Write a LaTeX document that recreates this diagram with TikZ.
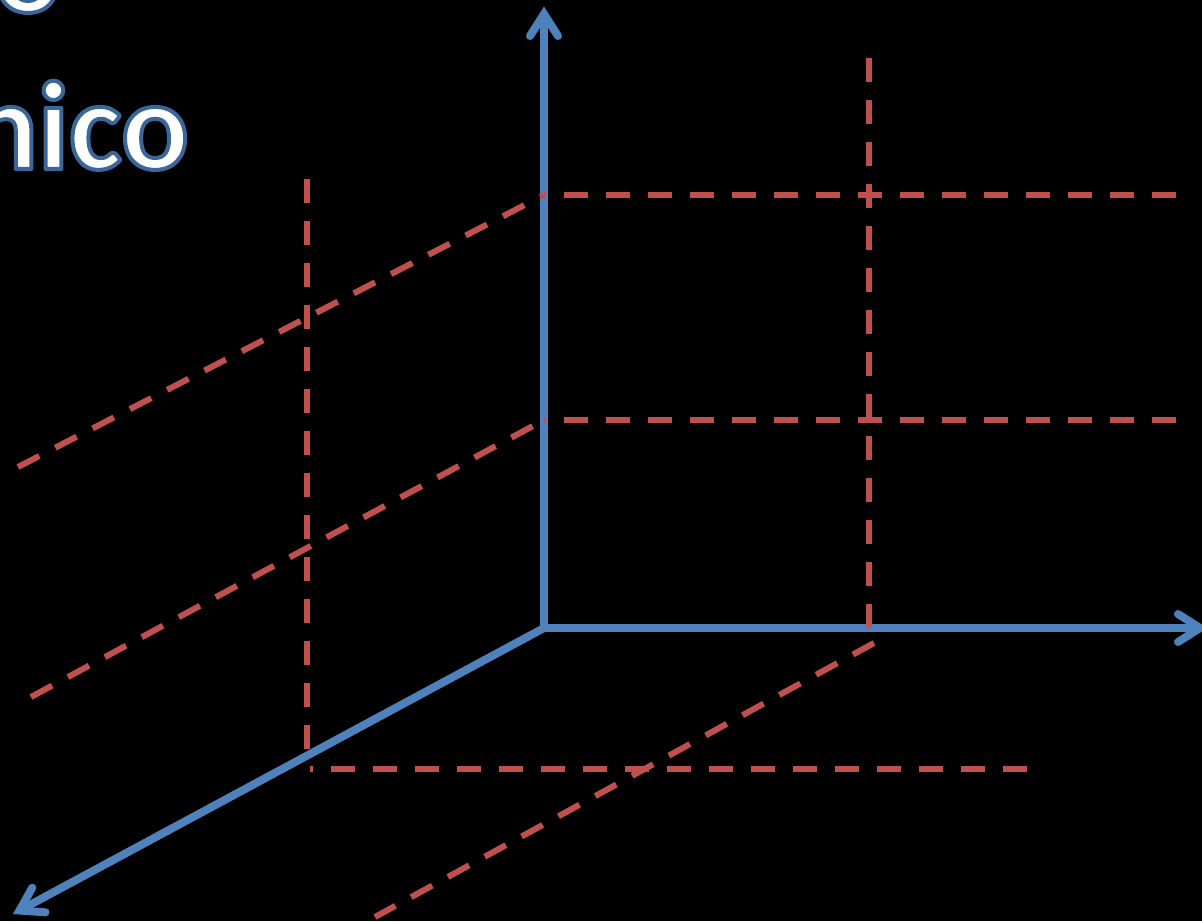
\documentclass[tikz,border=0pt]{standalone}
\usepackage{fontspec}
\setmainfont{Carlito}
\definecolor{axisblue}{HTML}{4F81BD}
\definecolor{dashred}{HTML}{C0504D}
\newcommand{\outlinedtext}[1]{\special{pdf:literal 2 Tr 4 w 1 j 0.23 0.40 0.60 RG}#1\special{pdf:literal 0 Tr}}
\begin{document}
\begin{tikzpicture}[x=1pt,y=-1pt,
  axisline/.style={draw=axisblue,line width=8pt},
  barb/.style={draw=axisblue,line width=8pt,line cap=round,line join=miter,miter limit=10},
  guide/.style={draw=dashred,line width=6pt,dash pattern=on 24pt off 18pt},
  titletext/.style={text=white,font=\bfseries\fontsize{126}{150}\selectfont,inner sep=0pt}]
\useasboundingbox (0,0) rectangle (1202,921);
\fill[black] (0,0) rectangle (1202,921);
\clip (0,0) rectangle (1202,921);

% title fragments
\node[titletext,anchor=base east] (t1) at (62,12) {\outlinedtext{o}};
\node[titletext,anchor=base east] (t2) at (189,169) {\outlinedtext{nico}};

% axes
\coordinate (O) at (544,628);
\coordinate (ytip) at (544,14);
\coordinate (yl) at (530,36);
\coordinate (yr) at (558,36);
\coordinate (xtip) at (1200,628);
\coordinate (xu) at (1178,614);
\coordinate (xd) at (1178,642);
\coordinate (ztip) at (19.5,910.5);
\coordinate (zu) at (32.3,887.7);
\coordinate (zd) at (45.5,912.3);

\draw[axisline] (O) -- (ytip);
\draw[axisline] (540,628) -- (xtip);
\draw[axisline] (O) -- (ztip);
\draw[barb] (yl) -- (ytip) -- (yr);
\draw[barb] (xu) -- (xtip) -- (xd);
\draw[barb] (zu) -- (ztip) -- (zd);

% dashed guides
\coordinate (h1a) at (1176,195);
\coordinate (h1b) at (544,195);
\coordinate (h2a) at (1176,420);
\coordinate (h2b) at (544,420);
\coordinate (v1a) at (869,58);
\coordinate (v1b) at (869,628);
\coordinate (v2a) at (307,179);
\coordinate (v2b) at (307,757);
\coordinate (h3a) at (1027,769);
\coordinate (h3b) at (310,769);
\coordinate (d1a) at (18,467);
\coordinate (d1b) at (544,195);
\coordinate (d2a) at (31,697);
\coordinate (d2b) at (544,420);
\coordinate (d3a) at (874,643);
\coordinate (d3b) at (375,917);

\draw[guide] (h1a) -- (h1b);
\draw[guide] (h2a) -- (h2b);
\draw[guide] (v1a) -- (v1b);
\draw[guide] (v2a) -- (v2b);
\draw[guide] (h3a) -- (h3b);
\draw[guide] (d1a) -- (d1b);
\draw[guide] (d2a) -- (d2b);
\draw[guide] (d3a) -- (d3b);
\end{tikzpicture}
\end{document}
